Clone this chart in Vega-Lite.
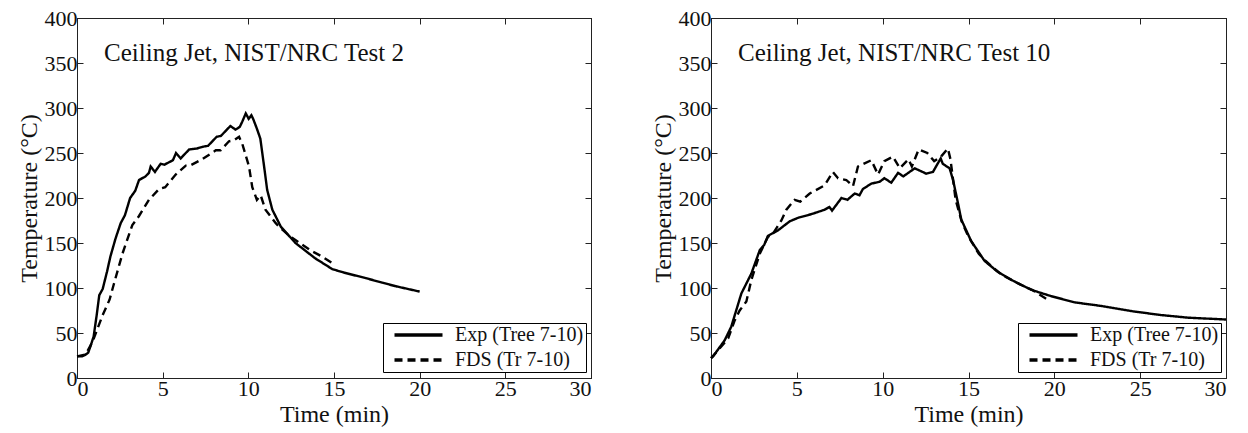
{
  "$schema": "https://vega.github.io/schema/vega-lite/v6.json",
  "padding": {"left": 16, "top": 6, "right": 5, "bottom": 5},
  "background": "white",
  "spacing": 58,
  "resolve": {"scale": {"strokeDash": "independent"}, "legend": {"strokeDash": "independent"}},
  "datasets": {
    "test2": [
      {"series": "Exp (Tree 7-10)", "t": 0, "temp": 24},
      {"series": "Exp (Tree 7-10)", "t": 0.3, "temp": 24},
      {"series": "Exp (Tree 7-10)", "t": 0.5, "temp": 26},
      {"series": "Exp (Tree 7-10)", "t": 0.65, "temp": 28},
      {"series": "Exp (Tree 7-10)", "t": 0.8, "temp": 36},
      {"series": "Exp (Tree 7-10)", "t": 0.97, "temp": 46},
      {"series": "Exp (Tree 7-10)", "t": 1.15, "temp": 70},
      {"series": "Exp (Tree 7-10)", "t": 1.3, "temp": 92},
      {"series": "Exp (Tree 7-10)", "t": 1.5, "temp": 99},
      {"series": "Exp (Tree 7-10)", "t": 1.75, "temp": 118},
      {"series": "Exp (Tree 7-10)", "t": 1.95, "temp": 135},
      {"series": "Exp (Tree 7-10)", "t": 2.25, "temp": 155},
      {"series": "Exp (Tree 7-10)", "t": 2.55, "temp": 172},
      {"series": "Exp (Tree 7-10)", "t": 2.8, "temp": 181},
      {"series": "Exp (Tree 7-10)", "t": 3.1, "temp": 200},
      {"series": "Exp (Tree 7-10)", "t": 3.4, "temp": 208},
      {"series": "Exp (Tree 7-10)", "t": 3.62, "temp": 220},
      {"series": "Exp (Tree 7-10)", "t": 4.0, "temp": 224},
      {"series": "Exp (Tree 7-10)", "t": 4.2, "temp": 228},
      {"series": "Exp (Tree 7-10)", "t": 4.3, "temp": 235},
      {"series": "Exp (Tree 7-10)", "t": 4.55, "temp": 229},
      {"series": "Exp (Tree 7-10)", "t": 4.88, "temp": 238},
      {"series": "Exp (Tree 7-10)", "t": 5.1, "temp": 237},
      {"series": "Exp (Tree 7-10)", "t": 5.4, "temp": 240},
      {"series": "Exp (Tree 7-10)", "t": 5.6, "temp": 242},
      {"series": "Exp (Tree 7-10)", "t": 5.78, "temp": 250},
      {"series": "Exp (Tree 7-10)", "t": 6.05, "temp": 244},
      {"series": "Exp (Tree 7-10)", "t": 6.3, "temp": 249},
      {"series": "Exp (Tree 7-10)", "t": 6.55, "temp": 254},
      {"series": "Exp (Tree 7-10)", "t": 7.0, "temp": 255},
      {"series": "Exp (Tree 7-10)", "t": 7.35, "temp": 257},
      {"series": "Exp (Tree 7-10)", "t": 7.65, "temp": 258},
      {"series": "Exp (Tree 7-10)", "t": 7.9, "temp": 263},
      {"series": "Exp (Tree 7-10)", "t": 8.15, "temp": 268},
      {"series": "Exp (Tree 7-10)", "t": 8.4, "temp": 269},
      {"series": "Exp (Tree 7-10)", "t": 8.65, "temp": 274},
      {"series": "Exp (Tree 7-10)", "t": 8.95, "temp": 280},
      {"series": "Exp (Tree 7-10)", "t": 9.25, "temp": 276},
      {"series": "Exp (Tree 7-10)", "t": 9.5, "temp": 279},
      {"series": "Exp (Tree 7-10)", "t": 9.65, "temp": 285},
      {"series": "Exp (Tree 7-10)", "t": 9.85, "temp": 294},
      {"series": "Exp (Tree 7-10)", "t": 10.02, "temp": 288},
      {"series": "Exp (Tree 7-10)", "t": 10.18, "temp": 292},
      {"series": "Exp (Tree 7-10)", "t": 10.3, "temp": 287},
      {"series": "Exp (Tree 7-10)", "t": 10.5, "temp": 277},
      {"series": "Exp (Tree 7-10)", "t": 10.7, "temp": 266},
      {"series": "Exp (Tree 7-10)", "t": 10.9, "temp": 238},
      {"series": "Exp (Tree 7-10)", "t": 11.1, "temp": 209},
      {"series": "Exp (Tree 7-10)", "t": 11.4, "temp": 187},
      {"series": "Exp (Tree 7-10)", "t": 11.9, "temp": 168},
      {"series": "Exp (Tree 7-10)", "t": 12.75, "temp": 150},
      {"series": "Exp (Tree 7-10)", "t": 13.9, "temp": 133},
      {"series": "Exp (Tree 7-10)", "t": 14.9, "temp": 121},
      {"series": "Exp (Tree 7-10)", "t": 15.6, "temp": 117},
      {"series": "Exp (Tree 7-10)", "t": 16.85, "temp": 111},
      {"series": "Exp (Tree 7-10)", "t": 17.8, "temp": 106},
      {"series": "Exp (Tree 7-10)", "t": 18.6, "temp": 102},
      {"series": "Exp (Tree 7-10)", "t": 19.3, "temp": 99},
      {"series": "Exp (Tree 7-10)", "t": 20.0, "temp": 96},
      {"series": "FDS (Tr 7-10)", "t": 0, "temp": 24},
      {"series": "FDS (Tr 7-10)", "t": 0.5, "temp": 26},
      {"series": "FDS (Tr 7-10)", "t": 0.9, "temp": 40},
      {"series": "FDS (Tr 7-10)", "t": 1.2, "temp": 55},
      {"series": "FDS (Tr 7-10)", "t": 1.5, "temp": 70},
      {"series": "FDS (Tr 7-10)", "t": 1.9, "temp": 87},
      {"series": "FDS (Tr 7-10)", "t": 2.16, "temp": 105},
      {"series": "FDS (Tr 7-10)", "t": 2.65, "temp": 138},
      {"series": "FDS (Tr 7-10)", "t": 3.23, "temp": 170},
      {"series": "FDS (Tr 7-10)", "t": 3.62, "temp": 180},
      {"series": "FDS (Tr 7-10)", "t": 4.2, "temp": 198},
      {"series": "FDS (Tr 7-10)", "t": 4.79, "temp": 210},
      {"series": "FDS (Tr 7-10)", "t": 5.15, "temp": 212},
      {"series": "FDS (Tr 7-10)", "t": 5.76, "temp": 226},
      {"series": "FDS (Tr 7-10)", "t": 6.35, "temp": 236},
      {"series": "FDS (Tr 7-10)", "t": 6.6, "temp": 236},
      {"series": "FDS (Tr 7-10)", "t": 7.3, "temp": 243},
      {"series": "FDS (Tr 7-10)", "t": 8.1, "temp": 253},
      {"series": "FDS (Tr 7-10)", "t": 8.38, "temp": 253},
      {"series": "FDS (Tr 7-10)", "t": 8.87, "temp": 263},
      {"series": "FDS (Tr 7-10)", "t": 9.15, "temp": 264},
      {"series": "FDS (Tr 7-10)", "t": 9.46, "temp": 268},
      {"series": "FDS (Tr 7-10)", "t": 9.65, "temp": 260},
      {"series": "FDS (Tr 7-10)", "t": 10.04, "temp": 235},
      {"series": "FDS (Tr 7-10)", "t": 10.23, "temp": 212},
      {"series": "FDS (Tr 7-10)", "t": 10.5, "temp": 198},
      {"series": "FDS (Tr 7-10)", "t": 10.72, "temp": 203},
      {"series": "FDS (Tr 7-10)", "t": 11.0, "temp": 187},
      {"series": "FDS (Tr 7-10)", "t": 11.6, "temp": 172},
      {"series": "FDS (Tr 7-10)", "t": 11.8, "temp": 168},
      {"series": "FDS (Tr 7-10)", "t": 12.4, "temp": 158},
      {"series": "FDS (Tr 7-10)", "t": 13.15, "temp": 148},
      {"series": "FDS (Tr 7-10)", "t": 13.7, "temp": 141},
      {"series": "FDS (Tr 7-10)", "t": 14.3, "temp": 135},
      {"series": "FDS (Tr 7-10)", "t": 14.95, "temp": 127}
    ],
    "test10": [
      {"series": "Exp (Tree 7-10)", "t": 0, "temp": 22},
      {"series": "Exp (Tree 7-10)", "t": 0.12, "temp": 24},
      {"series": "Exp (Tree 7-10)", "t": 0.8, "temp": 42},
      {"series": "Exp (Tree 7-10)", "t": 1.18, "temp": 57},
      {"series": "Exp (Tree 7-10)", "t": 1.77, "temp": 94},
      {"series": "Exp (Tree 7-10)", "t": 2.35, "temp": 116},
      {"series": "Exp (Tree 7-10)", "t": 2.84, "temp": 142},
      {"series": "Exp (Tree 7-10)", "t": 3.1, "temp": 148},
      {"series": "Exp (Tree 7-10)", "t": 3.32, "temp": 158},
      {"series": "Exp (Tree 7-10)", "t": 3.9, "temp": 164},
      {"series": "Exp (Tree 7-10)", "t": 4.58, "temp": 174},
      {"series": "Exp (Tree 7-10)", "t": 5.07, "temp": 178},
      {"series": "Exp (Tree 7-10)", "t": 5.84, "temp": 182},
      {"series": "Exp (Tree 7-10)", "t": 6.62, "temp": 187},
      {"series": "Exp (Tree 7-10)", "t": 6.9, "temp": 190},
      {"series": "Exp (Tree 7-10)", "t": 7.05, "temp": 186},
      {"series": "Exp (Tree 7-10)", "t": 7.6, "temp": 200},
      {"series": "Exp (Tree 7-10)", "t": 7.95, "temp": 198},
      {"series": "Exp (Tree 7-10)", "t": 8.37, "temp": 205},
      {"series": "Exp (Tree 7-10)", "t": 8.65, "temp": 203},
      {"series": "Exp (Tree 7-10)", "t": 8.85, "temp": 210},
      {"series": "Exp (Tree 7-10)", "t": 9.34, "temp": 216},
      {"series": "Exp (Tree 7-10)", "t": 9.82, "temp": 218},
      {"series": "Exp (Tree 7-10)", "t": 10.1, "temp": 222},
      {"series": "Exp (Tree 7-10)", "t": 10.5, "temp": 217},
      {"series": "Exp (Tree 7-10)", "t": 10.9, "temp": 228},
      {"series": "Exp (Tree 7-10)", "t": 11.2, "temp": 224},
      {"series": "Exp (Tree 7-10)", "t": 11.87, "temp": 233},
      {"series": "Exp (Tree 7-10)", "t": 12.54, "temp": 227},
      {"series": "Exp (Tree 7-10)", "t": 12.93, "temp": 229},
      {"series": "Exp (Tree 7-10)", "t": 13.38, "temp": 244},
      {"series": "Exp (Tree 7-10)", "t": 13.5, "temp": 238},
      {"series": "Exp (Tree 7-10)", "t": 13.9, "temp": 233},
      {"series": "Exp (Tree 7-10)", "t": 14.1, "temp": 220},
      {"series": "Exp (Tree 7-10)", "t": 14.39, "temp": 194},
      {"series": "Exp (Tree 7-10)", "t": 14.58, "temp": 176},
      {"series": "Exp (Tree 7-10)", "t": 15.16, "temp": 152},
      {"series": "Exp (Tree 7-10)", "t": 15.94, "temp": 130},
      {"series": "Exp (Tree 7-10)", "t": 16.7, "temp": 118},
      {"series": "Exp (Tree 7-10)", "t": 17.5, "temp": 109},
      {"series": "Exp (Tree 7-10)", "t": 18.65, "temp": 98},
      {"series": "Exp (Tree 7-10)", "t": 19.8, "temp": 91},
      {"series": "Exp (Tree 7-10)", "t": 21.2, "temp": 84},
      {"series": "Exp (Tree 7-10)", "t": 22.75, "temp": 80},
      {"series": "Exp (Tree 7-10)", "t": 24.6, "temp": 74},
      {"series": "Exp (Tree 7-10)", "t": 26.2, "temp": 70},
      {"series": "Exp (Tree 7-10)", "t": 27.8, "temp": 67},
      {"series": "Exp (Tree 7-10)", "t": 30, "temp": 65},
      {"series": "FDS (Tr 7-10)", "t": 0, "temp": 22},
      {"series": "FDS (Tr 7-10)", "t": 0.1, "temp": 24},
      {"series": "FDS (Tr 7-10)", "t": 1.0, "temp": 44},
      {"series": "FDS (Tr 7-10)", "t": 1.38, "temp": 64},
      {"series": "FDS (Tr 7-10)", "t": 1.67, "temp": 75},
      {"series": "FDS (Tr 7-10)", "t": 2.06, "temp": 85},
      {"series": "FDS (Tr 7-10)", "t": 2.35, "temp": 109},
      {"series": "FDS (Tr 7-10)", "t": 2.84, "temp": 138},
      {"series": "FDS (Tr 7-10)", "t": 3.32, "temp": 157},
      {"series": "FDS (Tr 7-10)", "t": 3.6, "temp": 160},
      {"series": "FDS (Tr 7-10)", "t": 4.1, "temp": 175},
      {"series": "FDS (Tr 7-10)", "t": 4.39, "temp": 187},
      {"series": "FDS (Tr 7-10)", "t": 4.87, "temp": 198},
      {"series": "FDS (Tr 7-10)", "t": 5.2, "temp": 196},
      {"series": "FDS (Tr 7-10)", "t": 5.75, "temp": 205},
      {"series": "FDS (Tr 7-10)", "t": 6.62, "temp": 214},
      {"series": "FDS (Tr 7-10)", "t": 7.1, "temp": 229},
      {"series": "FDS (Tr 7-10)", "t": 7.4, "temp": 222},
      {"series": "FDS (Tr 7-10)", "t": 7.88, "temp": 220},
      {"series": "FDS (Tr 7-10)", "t": 8.27, "temp": 213},
      {"series": "FDS (Tr 7-10)", "t": 8.56, "temp": 235},
      {"series": "FDS (Tr 7-10)", "t": 9.34, "temp": 242},
      {"series": "FDS (Tr 7-10)", "t": 9.73, "temp": 226},
      {"series": "FDS (Tr 7-10)", "t": 10.1, "temp": 241},
      {"series": "FDS (Tr 7-10)", "t": 10.6, "temp": 246},
      {"series": "FDS (Tr 7-10)", "t": 11.0, "temp": 233},
      {"series": "FDS (Tr 7-10)", "t": 11.5, "temp": 243},
      {"series": "FDS (Tr 7-10)", "t": 11.7, "temp": 235},
      {"series": "FDS (Tr 7-10)", "t": 12.1, "temp": 254},
      {"series": "FDS (Tr 7-10)", "t": 12.6, "temp": 250},
      {"series": "FDS (Tr 7-10)", "t": 13.0, "temp": 241},
      {"series": "FDS (Tr 7-10)", "t": 13.4, "temp": 246},
      {"series": "FDS (Tr 7-10)", "t": 13.8, "temp": 255},
      {"series": "FDS (Tr 7-10)", "t": 13.95, "temp": 243},
      {"series": "FDS (Tr 7-10)", "t": 14.25, "temp": 198},
      {"series": "FDS (Tr 7-10)", "t": 14.6, "temp": 174},
      {"series": "FDS (Tr 7-10)", "t": 15.0, "temp": 157},
      {"series": "FDS (Tr 7-10)", "t": 15.6, "temp": 138},
      {"series": "FDS (Tr 7-10)", "t": 16.0, "temp": 130},
      {"series": "FDS (Tr 7-10)", "t": 16.6, "temp": 120},
      {"series": "FDS (Tr 7-10)", "t": 17.0, "temp": 114},
      {"series": "FDS (Tr 7-10)", "t": 17.6, "temp": 108},
      {"series": "FDS (Tr 7-10)", "t": 18.0, "temp": 104},
      {"series": "FDS (Tr 7-10)", "t": 18.7, "temp": 98},
      {"series": "FDS (Tr 7-10)", "t": 19.2, "temp": 92},
      {"series": "FDS (Tr 7-10)", "t": 19.7, "temp": 86}
    ]
  },
  "hconcat": [
    {
      "width": 514,
      "height": 360,
      "resolve": {"axis": {"x": "independent", "y": "independent"}},
      "layer": [
        {
          "data": {"name": "test2"},
          "mark": {"type": "line", "strokeWidth": 2.4, "color": "black"},
          "encoding": {
            "x": {"field": "t", "type": "quantitative", "scale": {"domain": [0, 30], "nice": false},
                  "axis": {"orient": "bottom", "title": "Time (min)", "values": [0, 5, 10, 15, 20, 25, 30]}},
            "y": {"field": "temp", "type": "quantitative", "scale": {"domain": [0, 400], "nice": false},
                  "axis": {"orient": "left", "title": "Temperature (°C)", "values": [0, 50, 100, 150, 200, 250, 300, 350, 400]}},
            "strokeDash": {"field": "series", "type": "nominal",
                  "scale": {"domain": ["Exp (Tree 7-10)", "FDS (Tr 7-10)"], "range": [[1, 0], [8, 5]]},
                  "legend": {"title": null, "orient": "none", "legendX": 306, "legendY": 305}}
          }
        },
        {
          "data": {"values": [{"label": "Ceiling Jet, NIST/NRC Test 2"}]},
          "mark": {"type": "text", "align": "left", "baseline": "middle", "fontSize": 25, "font": "Liberation Serif", "color": "#111111"},
          "encoding": {
            "x": {"datum": 1.58, "type": "quantitative", "axis": {"orient": "top", "labels": false, "title": null, "values": [0, 5, 10, 15, 20, 25, 30]}},
            "y": {"datum": 361, "type": "quantitative", "axis": {"orient": "right", "labels": false, "title": null, "values": [0, 50, 100, 150, 200, 250, 300, 350, 400]}},
            "text": {"field": "label"}
          }
        }
      ]
    },
    {
      "width": 515,
      "height": 360,
      "resolve": {"axis": {"x": "independent", "y": "independent"}},
      "layer": [
        {
          "data": {"name": "test10"},
          "mark": {"type": "line", "strokeWidth": 2.4, "color": "black"},
          "encoding": {
            "x": {"field": "t", "type": "quantitative", "scale": {"domain": [0, 30], "nice": false},
                  "axis": {"orient": "bottom", "title": "Time (min)", "values": [0, 5, 10, 15, 20, 25, 30]}},
            "y": {"field": "temp", "type": "quantitative", "scale": {"domain": [0, 400], "nice": false},
                  "axis": {"orient": "left", "title": "Temperature (°C)", "values": [0, 50, 100, 150, 200, 250, 300, 350, 400]}},
            "strokeDash": {"field": "series", "type": "nominal",
                  "scale": {"domain": ["Exp (Tree 7-10)", "FDS (Tr 7-10)"], "range": [[1, 0], [8, 5]]},
                  "legend": {"title": null, "orient": "none", "legendX": 307, "legendY": 305}}
          }
        },
        {
          "data": {"values": [{"label": "Ceiling Jet, NIST/NRC Test 10"}]},
          "mark": {"type": "text", "align": "left", "baseline": "middle", "fontSize": 25, "font": "Liberation Serif", "color": "#111111"},
          "encoding": {
            "x": {"datum": 1.57, "type": "quantitative", "axis": {"orient": "top", "labels": false, "title": null, "values": [0, 5, 10, 15, 20, 25, 30]}},
            "y": {"datum": 361, "type": "quantitative", "axis": {"orient": "right", "labels": false, "title": null, "values": [0, 50, 100, 150, 200, 250, 300, 350, 400]}},
            "text": {"field": "label"}
          }
        }
      ]
    }
  ],
  "config": {
    "font": "Liberation Serif",
    "view": {"stroke": "black", "strokeWidth": 1},
    "axis": {
      "grid": false,
      "domainColor": "#222222",
      "tickColor": "#222222",
      "tickSize": -6,
      "labelPadding": 6,
      "labelColor": "#111111",
      "titleColor": "#111111",
      "labelFont": "Liberation Serif",
      "titleFont": "Liberation Serif",
      "labelFontSize": 22,
      "titleFontSize": 24,
      "titleFontWeight": "normal",
      "titlePadding": 3
    },
    "legend": {
      "strokeColor": "black",
      "fillColor": "white",
      "padding": 2,
      "symbolType": "M-0.1,0H9.5",
      "symbolStrokeColor": "black",
      "symbolStrokeWidth": 3.5,
      "symbolSize": 100,
      "labelFont": "Liberation Serif",
      "labelFontSize": 20,
      "labelColor": "#111111",
      "rowPadding": 5,
      "labelOffset": 50
    }
  }
}
